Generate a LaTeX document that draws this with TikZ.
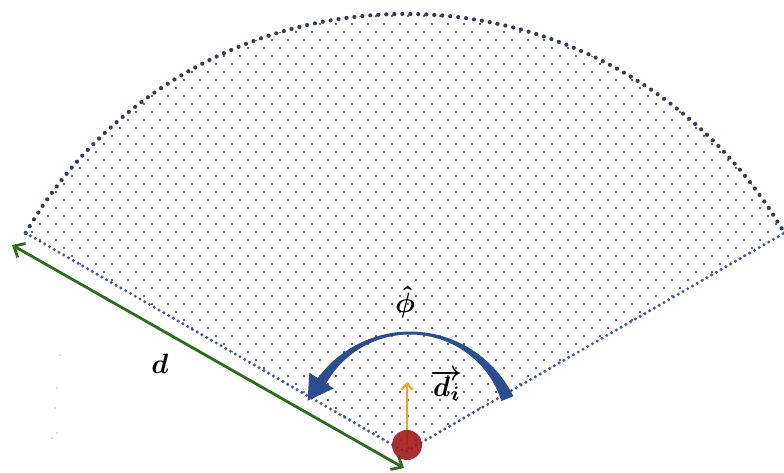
\documentclass[tikz,border=0pt]{standalone}
\usetikzlibrary{patterns,arrows.meta,calc}
\pgfdeclarepatternformonly{sectordots}{\pgfqpoint{-2pt}{-2pt}}{\pgfqpoint{18pt}{18pt}}{\pgfqpoint{16pt}{16pt}}{%
  \pgfpathcircle{\pgfqpoint{0pt}{0pt}}{1.15pt}%
  \pgfpathcircle{\pgfqpoint{8pt}{8pt}}{1.15pt}%
  \pgfusepath{fill}}
\definecolor{dotc}{HTML}{2E3350}
\definecolor{edgec}{HTML}{45569A}
\definecolor{rimc}{HTML}{363B55}
\definecolor{greenc}{HTML}{2F6A1F}
\definecolor{bluec}{HTML}{2D4E8E}
\definecolor{orangec}{HTML}{F2A235}
\definecolor{redc}{HTML}{9E1A1A}
\definecolor{ghostc}{HTML}{B0B0B0}
\tikzset{
  rimline/.style={draw=rimc,line width=4.2pt,line cap=round,dash pattern=on 0pt off 8pt},
  edgeline/.style={draw=edgec,line width=3.4pt,line cap=round,dash pattern=on 0pt off 5.5pt},
  greenarrow/.style={draw=greenc,line width=2.8pt,{Straight Barb[length=9pt,width=16pt,line width=2.8pt]}-{Straight Barb[length=9pt,width=16pt,line width=2.8pt]}},
  orangearrow/.style={draw=orangec,line width=2.2pt,-{Straight Barb[length=6pt,width=11pt,line width=2.2pt]}},
  lbl/.style={inner sep=0pt,scale=2.8,font=\boldmath},
}
\begin{document}
\begin{tikzpicture}[x=1pt,y=1pt]
\useasboundingbox (0,0) rectangle (784,472);
\coordinate (A) at (405,20);
\coordinate (L) at ($(A)+(150:438)$);
\coordinate (R) at ($(A)+(30:438)$);
% dotted fill
\fill[pattern=sectordots,pattern color=dotc] (A) -- (L) arc[start angle=150,end angle=30,radius=438] -- cycle;
% rim and edges
\draw[rimline] (L) arc[start angle=150,end angle=30,radius=438];
\draw[edgeline] (L) -- (A) -- (R);
% green double arrow
\coordinate (g1) at (12,227);
\coordinate (g2) at (404,4);
\draw[greenarrow] (g1) -- (g2);
% blue curved arrow
\fill[bluec] plot[domain=22:148,samples=70] ({410+(105+(3+10*((\x-90)/68)^2)/2)*cos(\x)},{34+(105+(3+10*((\x-90)/68)^2)/2)*sin(\x)})
  -- plot[domain=148:22,samples=70] ({410+(105-(3+10*((\x-90)/68)^2)/2)*cos(\x)},{34+(105-(3+10*((\x-90)/68)^2)/2)*sin(\x)}) -- cycle;
\fill[bluec] ({410+91*cos(147)},{34+91*sin(147)}) -- ({410+120*cos(147)},{34+120*sin(147)}) -- ({410+109*cos(160)},{34+109*sin(160)}) -- cycle;
% orange arrow and ball
\coordinate (oc) at (407,27);
\coordinate (ot) at (407,90);
\draw[orangearrow] (oc) -- (ot);
\fill[redc,fill opacity=0.9] (oc) circle[radius=15];
% labels
\node[lbl] (phi) at (405,170) {$\hat{\phi}$};
\node[lbl] (di) at (447,87) {$\overrightarrow{d_i}$};
\node[lbl] (d) at (160,108) {$d$};
% faint specks
\foreach \p in {(60,117),(57,84),(55,64),(57,39),(52,34)} \fill[ghostc] \p circle[radius=0.8];
\end{tikzpicture}
\end{document}
